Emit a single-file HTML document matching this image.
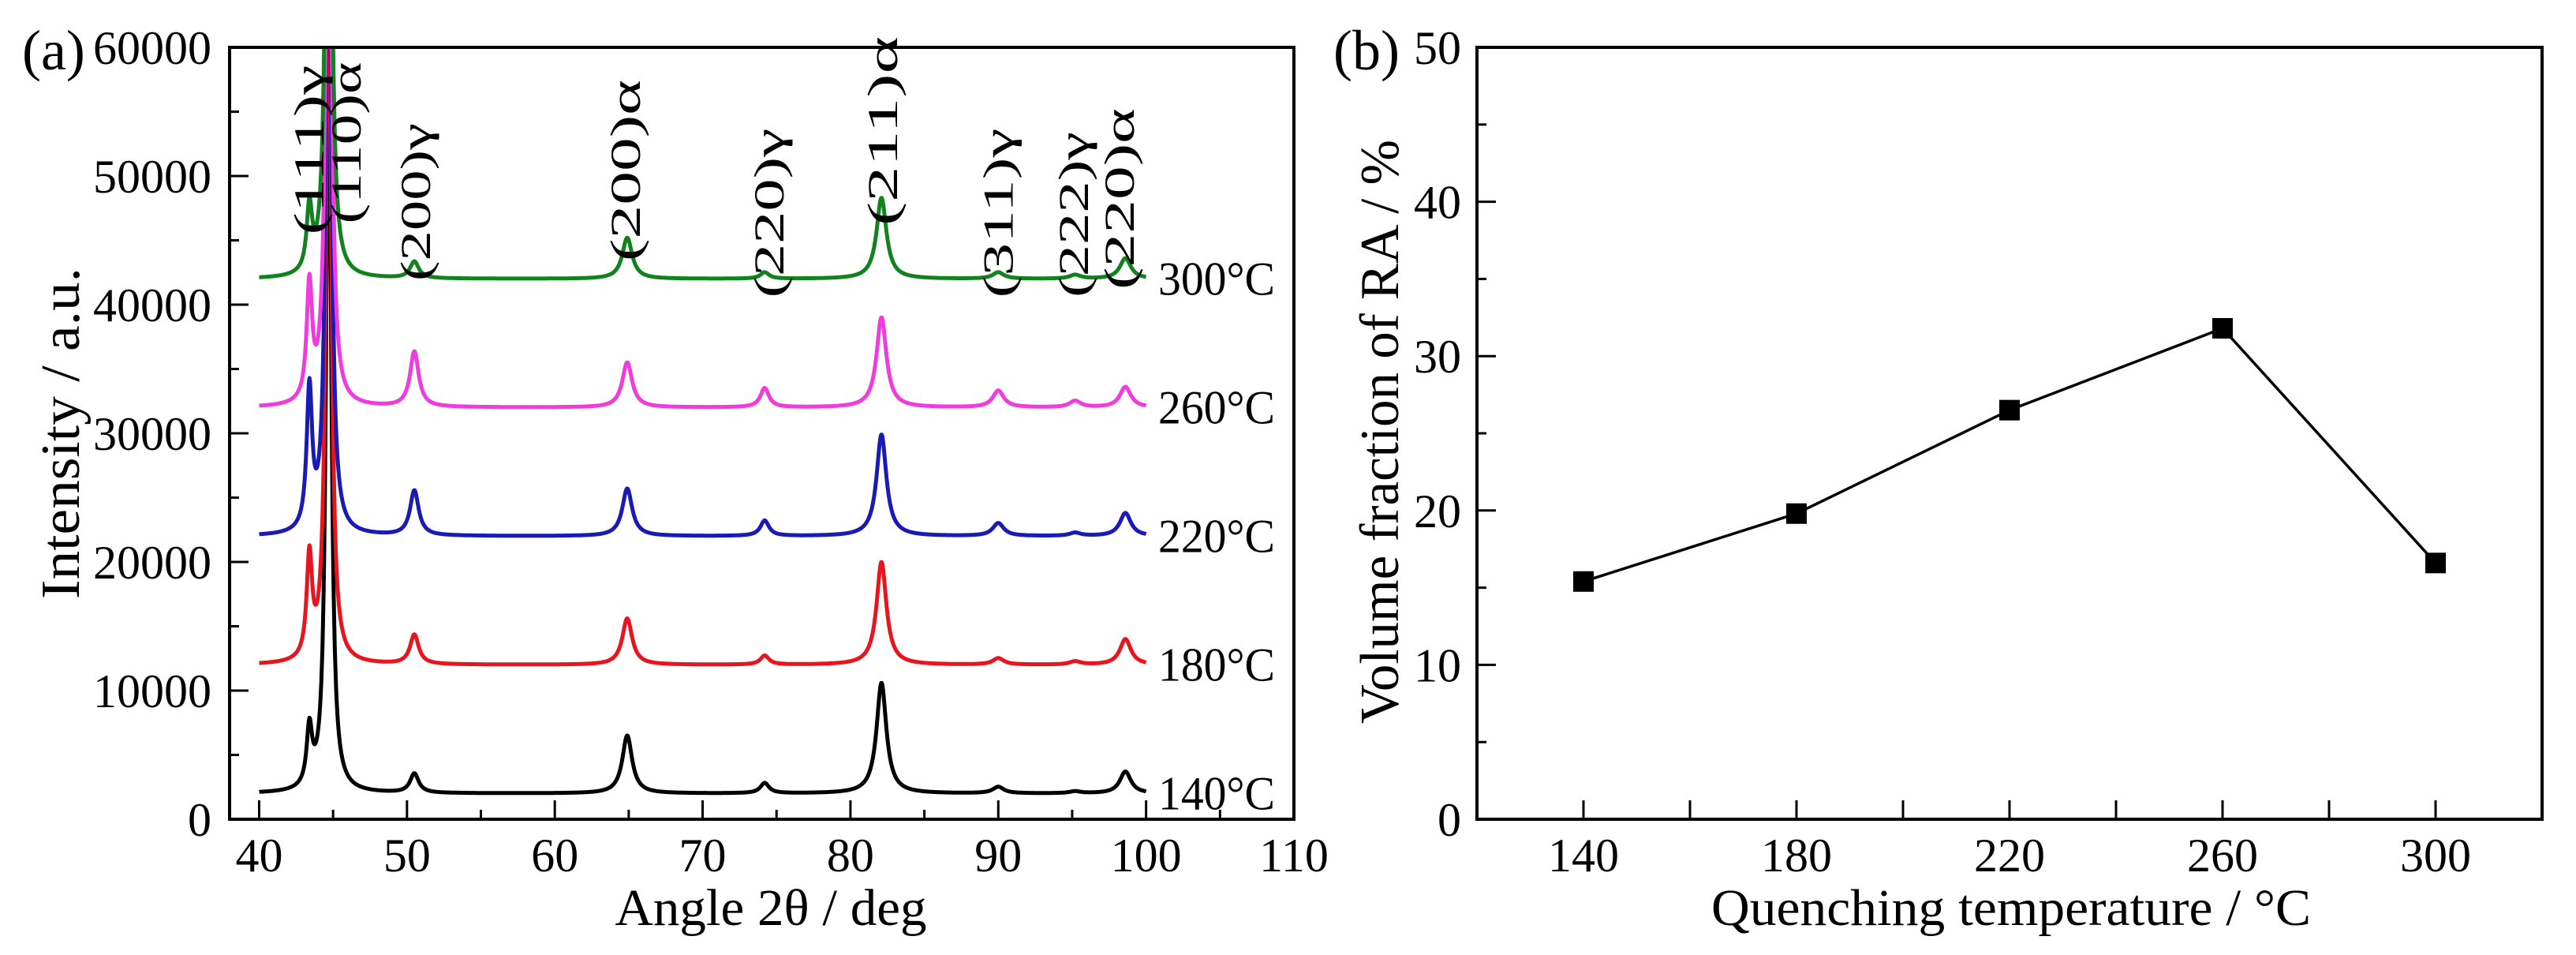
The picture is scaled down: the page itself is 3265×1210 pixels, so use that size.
<!DOCTYPE html>
<html><head><meta charset="utf-8"><style>
html,body{margin:0;padding:0;background:#fff;}
svg{display:block;font-family:"Liberation Serif",serif;}
</style></head><body>
<svg id="fig" width="3265" height="1210" viewBox="0 0 3265 1210" xmlns="http://www.w3.org/2000/svg">
<defs><clipPath id="clipA"><rect x="291" y="60" width="1349" height="978"/></clipPath></defs>
<g id="panelA"></g>
<g id="panelB"></g>
</svg>
<script>
// ---- Panel (a) data ----
const xrdSeriesNames = ["140°C","180°C","220°C","260°C","300°C"];
const xrdColors = ["#000000","#e8141e","#1a1ab4","#f03cdc","#12821e"];
const xrdBaselines = [2000,12000,22000,32000,42000];
const peakPositions = [43.4,44.7,50.5,64.9,74.2,82.1,90.0,95.2,98.6];
const heights140 = [4500,60000,1500,4500,800,8600,500,150,1700];
const heights180 = [7900,60000,2300,3600,700,8000,500,250,2000];
const heights220 = [10900,60000,3500,3700,1200,7900,1000,250,1800];
const heights260 = [9000,60000,4300,3500,1500,7000,1300,500,1600];
const heights300 = [5000,60000,1300,3200,500,6300,500,300,1600];
const peakWidths = [0.22,0.2,0.35,0.4,0.35,0.4,0.45,0.45,0.45];
const xTicksA = [40,50,60,70,80,90,100,110];
const yTicksA = [0,10000,20000,30000,40000,50000,60000];
const peakLabels = ["(111)γ","(110)α","(200)γ","(200)α","(220)γ","(211)α","(311)γ","(222)γ","(220)α"];
const peakLabelAngles = [43.4,45.9,50.6,64.8,74.5,82.2,90.0,95.1,98.2];
const peakLabelY = [190,181,256,216,270,166,270,272,252];
const peakLabelLen = [215,205,200,230,215,240,215,210,230];
// ---- Panel (b) data ----
const quenchTemps = [140,180,220,260,300];
const raFraction = [15.4,19.8,26.5,31.8,16.6];
const xTicksB = [140,180,220,260,300];
const yTicksB = [0,10,20,30,40,50];

const NS="http://www.w3.org/2000/svg";
function mk(tag,attrs,parent,text){const e=document.createElementNS(NS,tag);for(const k in attrs)e.setAttribute(k,attrs[k]);if(text!==undefined)e.textContent=text;parent.appendChild(e);return e;}

// Panel A axes
const A={x0:291,x1:1640,y0:1038,y1:60,xmin:38,xmax:110,ymin:0,ymax:60000};
const xA=v=>A.x0+(v-A.xmin)/(A.xmax-A.xmin)*(A.x1-A.x0);
const yA=v=>A.y0-(v-A.ymin)/(A.ymax-A.ymin)*(A.y0-A.y1);
const pA=document.getElementById('panelA');
const heightsAll=[heights140,heights180,heights220,heights260,heights300];
const curves=mk('g',{'clip-path':'url(#clipA)'},pA);


xrdSeriesNames.forEach((nm,i)=>{
  let d='';
  for(let t=40;t<=100.0001;t+=0.04){
    let v=xrdBaselines[i];
    peakPositions.forEach((p,j)=>{const w=peakWidths[j];v+=heightsAll[i][j]/(1+((t-p)/w)**2);});
    d+=(d?'L':'M')+xA(t).toFixed(1)+','+Math.max(yA(v),40).toFixed(1);
  }
  const path=mk('path',{d:d,fill:'none',stroke:xrdColors[i],'stroke-width':5,'stroke-linejoin':'round'},curves);
  
  
  const lbl=mk('text',{x:1468,y:yA(xrdBaselines[i])+20,'font-size':60,textLength:148,lengthAdjust:'spacingAndGlyphs'},pA,nm);
  
  
});
peakLabels.forEach((t,i)=>{
  const x=xA(peakLabelAngles[i]),y=peakLabelY[i];
  const e=mk('text',{x:x,y:y,'font-size':54,'text-anchor':'middle',transform:`rotate(-90 ${x} ${y})`,dy:18,textLength:peakLabelLen[i],lengthAdjust:'spacingAndGlyphs'},pA,t);
  
  
});
const frameA=mk('rect',{x:A.x0,y:A.y1,width:A.x1-A.x0,height:A.y0-A.y1,fill:'none',stroke:'#000','stroke-width':4},pA);


for(let v=40;v<=105;v+=5){const x=xA(v);mk('line',{x1:x,x2:x,y1:A.y0,y2:A.y0-(v%10===0?24:12),stroke:'#000','stroke-width':3},pA);}
for(let v=5000;v<60000;v+=5000){const y=yA(v);mk('line',{x1:A.x0,x2:A.x0+(v%10000===0?24:12),y1:y,y2:y,stroke:'#000','stroke-width':3},pA);}
xTicksA.forEach(v=>{const e=mk('text',{x:xA(v),y:1104,'font-size':60,'text-anchor':'middle'},pA,v);});
yTicksA.forEach(v=>{const e=mk('text',{x:268,y:yA(v)+21,'font-size':60,'text-anchor':'end'},pA,v);});
let e;
e=mk('text',{x:28,y:88,'font-size':72},pA,'(a)');
e=mk('text',{x:977,y:1172,'font-size':66,'text-anchor':'middle',textLength:395,lengthAdjust:'spacingAndGlyphs'},pA,'Angle 2θ / deg');
e=mk('text',{x:100,y:549,'font-size':70,'text-anchor':'middle',transform:'rotate(-90 100 549)',textLength:420,lengthAdjust:'spacingAndGlyphs'},pA,'Intensity / a.u.');

// Panel B
const B={x0:1872,x1:3222,y0:1038,y1:60,xmin:120,xmax:320,ymin:0,ymax:50};
const xB=v=>B.x0+(v-B.xmin)/(B.xmax-B.xmin)*(B.x1-B.x0);
const yB=v=>B.y0-(v-B.ymin)/(B.ymax-B.ymin)*(B.y0-B.y1);
const pB=document.getElementById('panelB');
const frameB=mk('rect',{x:B.x0,y:B.y1,width:B.x1-B.x0,height:B.y0-B.y1,fill:'none',stroke:'#000','stroke-width':4},pB);


for(let v=140;v<=300;v+=20){const x=xB(v);mk('line',{x1:x,x2:x,y1:B.y0,y2:B.y0-24,stroke:'#000','stroke-width':3},pB);}
for(let v=5;v<50;v+=5){const y=yB(v);mk('line',{x1:B.x0,x2:B.x0+(v%10===0?24:12),y1:y,y2:y,stroke:'#000','stroke-width':3},pB);}
const line=mk('polyline',{points:quenchTemps.map((t,i)=>xB(t)+','+yB(raFraction[i])).join(' '),fill:'none',stroke:'#000','stroke-width':3.5},pB);


quenchTemps.forEach((t,i)=>{
  const m=mk('rect',{x:xB(t)-13,y:yB(raFraction[i])-13,width:26,height:26,fill:'#000'},pB);
  
  
});
xTicksB.forEach(v=>{const e=mk('text',{x:xB(v),y:1104,'font-size':60,'text-anchor':'middle'},pB,v);});
yTicksB.forEach(v=>{const e=mk('text',{x:1852,y:yB(v)+21,'font-size':60,'text-anchor':'end'},pB,v);});
e=mk('text',{x:1690,y:88,'font-size':72},pB,'(b)');
e=mk('text',{x:2549,y:1172,'font-size':66,'text-anchor':'middle',textLength:760,lengthAdjust:'spacingAndGlyphs'},pB,'Quenching temperature / °C');
e=mk('text',{x:1772,y:547,'font-size':70,'text-anchor':'middle',transform:'rotate(-90 1772 547)',textLength:740,lengthAdjust:'spacingAndGlyphs'},pB,'Volume fraction of RA / %');
</script>
</body></html>
